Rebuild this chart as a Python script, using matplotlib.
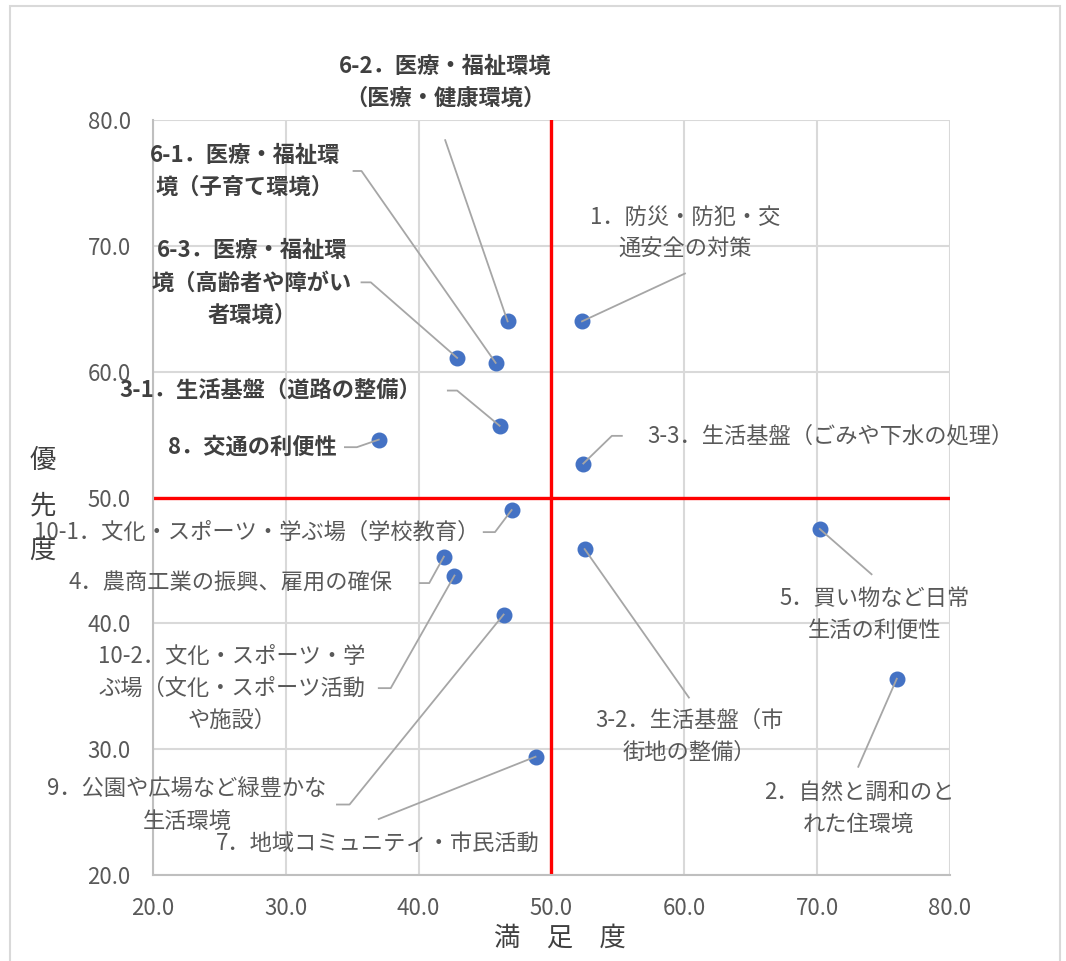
import numpy as np
import matplotlib
matplotlib.use("Agg")
import matplotlib.pyplot as plt
from matplotlib.patches import Rectangle

plt.rcParams['font.family'] = ['Noto Sans CJK JP', 'DejaVu Sans']

# データ（満足度, 優先度）
labels = [
    "1．防災・防犯・交\n通安全の対策",
    "2．自然と調和のと\nれた住環境",
    "3-1．生活基盤（道路の整備）",
    "3-2．生活基盤（市\n街地の整備）",
    "3-3．生活基盤（ごみや下水の処理）",
    "4．農商工業の振興、雇用の確保",
    "5．買い物など日常\n生活の利便性",
    "6-1．医療・福祉環\n境（子育て環境）",
    "6-2．医療・福祉環境\n（医療・健康環境）",
    "6-3．医療・福祉環\n境（高齢者や障がい\n者環境）",
    "7．地域コミュニティ・市民活動",
    "8．交通の利便性",
    "9．公園や広場など緑豊かな\n生活環境",
    "10-1．文化・スポーツ・学ぶ場（学校教育）",
    "10-2．文化・スポーツ・学\nぶ場（文化・スポーツ活動\nや施設）",
]
manzoku = [52.3, 76.0, 46.1, 52.5, 52.4, 41.9, 70.2, 45.8, 46.7, 42.9, 48.8, 37.0, 46.4, 47.0, 42.7]
yusen = [64.0, 35.6, 55.7, 45.9, 52.7, 45.3, 47.5, 60.7, 64.0, 61.1, 29.4, 54.6, 40.7, 49.0, 43.8]
bold = [False, False, True, False, False, False, False, True, True, True, False, True, False, False, False]

# ラベル位置（中心）と引き出し線の始点
text_pos = [(60.1, 71.0), (73.15, 25.3), (28.8, 58.5), (60.4, 31.0), (71.0, 54.9),
            (25.8, 43.2), (74.3, 40.7), (26.9, 75.9), (42.0, 83.0), (27.45, 67.05),
            (36.9, 22.55), (27.45, 54.0), (22.55, 25.55), (27.8, 47.25), (25.95, 34.85)]
leader = [
    [(60.05, 67.8)],
    [(73.1, 28.6)],
    [(42.2, 58.5), (42.9, 58.5)],
    [(60.35, 34.1)],
    [(55.3, 54.9), (54.55, 54.9)],
    [(40.1, 43.2), (40.8, 43.2)],
    [(74.1, 43.9)],
    [(35.1, 75.95), (35.7, 75.95)],
    [(42.0, 78.4)],
    [(35.7, 67.1), (36.4, 67.1)],
    [(37.0, 24.45)],
    [(34.45, 54.0), (35.35, 54.0)],
    [(33.85, 25.6), (34.8, 25.6)],
    [(44.9, 47.25), (45.75, 47.25)],
    [(37.0, 34.85), (37.9, 34.85)],
]

fig = plt.figure(figsize=(10.66, 9.61), dpi=100)
ax = fig.add_axes([0.1435, 0.0895, 0.7476, 0.7856])

ax.set_xlim(20, 80)
ax.set_ylim(20, 80)
ticks = np.arange(20, 81, 10)
ax.set_xticks(ticks)
ax.set_yticks(ticks)
ax.set_xticklabels([f"{t:.1f}" for t in ticks])
ax.set_yticklabels([f"{t:.1f}" for t in ticks])
ax.tick_params(length=0, labelsize=16, colors="#595959")
ax.tick_params(axis="y", pad=16)
ax.tick_params(axis="x", pad=16)
ax.grid(color="#d9d9d9", linewidth=1.5)
ax.set_axisbelow(True)
for s in ["top", "right"]:
    ax.spines[s].set_visible(False)
for s in ["left", "bottom"]:
    ax.spines[s].set_color("#bfbfbf")
    ax.spines[s].set_linewidth(1.5)

ax.axvline(50, color="red", linewidth=2.4, zorder=2)
ax.axhline(50, color="red", linewidth=2.4, zorder=2)

ax.scatter(manzoku, yusen, s=110, color="#4472C4", zorder=3)

for i in range(len(labels)):
    pts = leader[i] + [(manzoku[i], yusen[i])]
    ax.plot([p[0] for p in pts], [p[1] for p in pts], color="#a6a6a6",
            linewidth=1.3, zorder=4, clip_on=False)
    ax.text(text_pos[i][0], text_pos[i][1], labels[i], ha="center", va="center",
            fontsize=16, linespacing=1.5, clip_on=False,
            fontweight="bold" if bold[i] else "normal",
            color="#404040" if bold[i] else "#595959", zorder=5)

fig.text(0.525, 0.024, "満　足　度", ha="center", va="center", fontsize=19, color="#404040")
fig.text(0.04, 0.474, "優\n先\n度", ha="center", va="center", fontsize=19,
         color="#404040", linespacing=1.85)

fig.patches.append(Rectangle((0.009, -0.01), 0.985, 1.004, transform=fig.transFigure,
                             fill=False, edgecolor="#d9d9d9", linewidth=1.5))

fig.savefig("out.png", dpi=100)
